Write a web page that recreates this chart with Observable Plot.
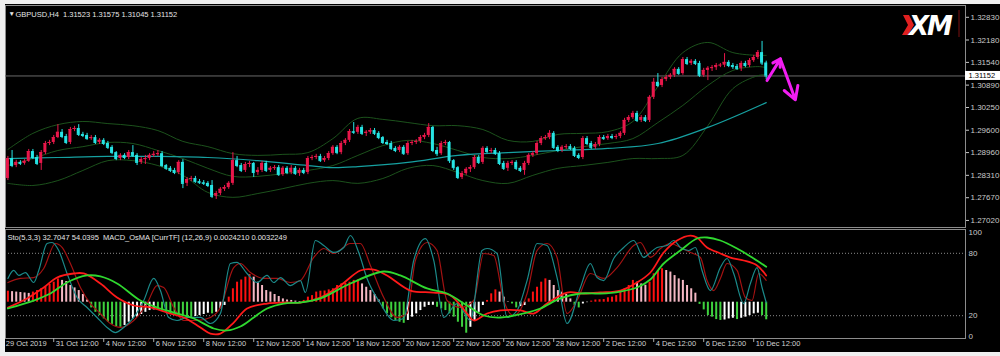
<!DOCTYPE html>
<html><head><meta charset="utf-8">
<script src="https://cdn.jsdelivr.net/npm/d3@7"></script>
<script src="https://cdn.jsdelivr.net/npm/@observablehq/plot@0.6"></script>
<style>
body{margin:0;background:#fff;}
#root{position:relative;width:1000px;height:356px;overflow:hidden;background:#efefef;}
#root > svg{position:absolute;}
</style></head><body><div id="root"></div>
<script>
// ---------- DATA ----------
const symbol = "GBPUSD,H4";
const firstOpen = 1.2822;
const close = [1.2879,1.2859,1.2868,1.2865,1.2871,1.2899,1.2882,1.2865,1.2896,1.2922,
1.2925,1.2939,1.2954,1.2942,1.2925,1.2962,1.2965,1.2948,1.2945,1.2936,
1.2939,1.2925,1.2931,1.2922,1.2911,1.2896,1.2879,1.2888,1.2882,1.2896,
1.2888,1.2868,1.2876,1.2879,1.2888,1.2891,1.2893,1.2859,1.2851,1.2845,
1.2839,1.2868,1.2808,1.2819,1.2822,1.2813,1.2810,1.2808,1.2802,1.2771,
1.2779,1.2791,1.2796,1.2808,1.2873,1.2859,1.2845,1.2862,1.2865,1.2839,
1.2845,1.2865,1.2845,1.2851,1.2853,1.2833,1.2851,1.2839,1.2851,1.2836,
1.2845,1.2839,1.2879,1.2882,1.2885,1.2873,1.2879,1.2893,1.2911,1.2896,
1.2922,1.2931,1.2956,1.2954,1.2968,1.2951,1.2954,1.2959,1.2951,1.2939,
1.2925,1.2922,1.2908,1.2902,1.2911,1.2893,1.2922,1.2925,1.2928,1.2939,
1.2945,1.2968,1.2902,1.2893,1.2922,1.2925,1.2873,1.2853,1.2825,1.2836,
1.2848,1.2853,1.2882,1.2868,1.2908,1.2899,1.2902,1.2893,1.2865,1.2851,
1.2865,1.2868,1.2851,1.2845,1.2865,1.2888,1.2893,1.2922,1.2936,1.2939,
1.2951,1.2911,1.2902,1.2911,1.2913,1.2908,1.2888,1.2882,1.2936,1.2922,
1.2911,1.2919,1.2939,1.2936,1.2942,1.2939,1.2942,1.2951,1.2988,1.2996,
1.3008,1.2988,1.2996,1.2988,1.3054,1.3097,1.3088,1.3105,1.3111,1.3117,
1.3134,1.3122,1.3162,1.3151,1.3157,1.3151,1.3117,1.3131,1.3137,1.3139,
1.3145,1.3146,1.3154,1.3145,1.3142,1.3137,1.3151,1.3145,1.3159,1.3168,
1.3182,1.31523,1.31152];
const high = [1.2885,1.2902,1.2874,1.2873,1.2876,1.2905,1.2905,1.2888,1.2902,1.2928,
1.2931,1.2945,1.2976,1.2962,1.2948,1.2968,1.2971,1.2976,1.2954,1.2951,
1.2945,1.2945,1.2936,1.2936,1.2928,1.2916,1.2899,1.2893,1.2893,1.2902,
1.2916,1.2893,1.2882,1.2888,1.2893,1.2899,1.2902,1.2899,1.2862,1.2856,
1.2851,1.2873,1.2876,1.2825,1.2828,1.2828,1.2819,1.2816,1.2813,1.2816,
1.2785,1.2796,1.2802,1.2813,1.2896,1.2885,1.2865,1.2868,1.2871,1.2868,
1.2853,1.2871,1.2871,1.2856,1.2859,1.2859,1.2856,1.2856,1.2859,1.2856,
1.2851,1.2851,1.2885,1.2888,1.2891,1.2891,1.2885,1.2899,1.2916,1.2916,
1.2928,1.2936,1.2962,1.2982,1.2974,1.2974,1.2959,1.2965,1.2965,1.2956,
1.2942,1.2931,1.2928,1.2913,1.2916,1.2916,1.2928,1.2931,1.2933,1.2945,
1.2951,1.2979,1.2971,1.2911,1.2928,1.2931,1.2928,1.2876,1.2856,1.2842,
1.2853,1.2859,1.2888,1.2888,1.2913,1.2913,1.2908,1.2908,1.2899,1.2871,
1.2871,1.2873,1.2873,1.2856,1.2871,1.2893,1.2899,1.2928,1.2942,1.2945,
1.2959,1.2956,1.2916,1.2916,1.2919,1.2919,1.2913,1.2893,1.2942,1.2942,
1.2928,1.2925,1.2945,1.2945,1.2948,1.2948,1.2948,1.2956,1.2994,1.3002,
1.3014,1.3014,1.3002,1.3002,1.3059,1.3108,1.3122,1.3111,1.3117,1.3122,
1.3139,1.3139,1.3168,1.3168,1.3162,1.3162,1.3157,1.3137,1.3142,1.3145,
1.3151,1.3151,1.3179,1.3159,1.3151,1.3148,1.3157,1.3157,1.3165,1.3174,
1.3188,1.3214,1.31575];
const low = [1.2816,1.2853,1.2853,1.2859,1.2860,1.2868,1.2876,1.2859,1.2845,1.2890,
1.2916,1.2919,1.2936,1.2936,1.2919,1.2919,1.2956,1.2942,1.2939,1.2931,
1.2931,1.2919,1.2919,1.2916,1.2905,1.2890,1.2873,1.2873,1.2876,1.2876,
1.2882,1.2859,1.2862,1.2862,1.2873,1.2882,1.2885,1.2853,1.2845,1.2839,
1.2833,1.2833,1.2793,1.2799,1.2813,1.2808,1.2805,1.2802,1.2796,1.2765,
1.2762,1.2773,1.2785,1.2791,1.2802,1.2853,1.2839,1.2839,1.2853,1.2825,
1.2831,1.2839,1.2839,1.2839,1.2845,1.2828,1.2828,1.2833,1.2833,1.2831,
1.2828,1.2833,1.2833,1.2873,1.2876,1.2868,1.2868,1.2873,1.2888,1.2890,
1.2890,1.2916,1.2925,1.2948,1.2948,1.2945,1.2942,1.2948,1.2945,1.2933,
1.2919,1.2916,1.2902,1.2896,1.2896,1.2888,1.2888,1.2916,1.2919,1.2922,
1.2933,1.2939,1.2896,1.2885,1.2888,1.2916,1.2865,1.2845,1.2819,1.2819,
1.2831,1.2839,1.2848,1.2862,1.2862,1.2893,1.2893,1.2888,1.2859,1.2845,
1.2842,1.2859,1.2845,1.2839,1.2831,1.2859,1.2882,1.2888,1.2916,1.2931,
1.2933,1.2905,1.2896,1.2896,1.2905,1.2902,1.2882,1.2876,1.2876,1.2916,
1.2905,1.2905,1.2913,1.2931,1.2931,1.2933,1.2933,1.2936,1.2945,1.2982,
1.2991,1.2982,1.2982,1.2982,1.2982,1.3048,1.3082,1.3082,1.3099,1.3105,
1.3111,1.3117,1.3117,1.3145,1.3145,1.3145,1.3111,1.3111,1.3102,1.3128,
1.3131,1.3139,1.3139,1.3139,1.3134,1.3131,1.3128,1.3139,1.3139,1.3154,
1.3162,1.3145,1.31045];

// Bollinger bands (20,2) and moving average, sampled at bar indices
const bandBar = [0,6,12,18,24,30,36,42,48,54,60,66,72,78,84,90,96,102,108,114,120,126,132,138,144,150,156,162,168,174,180,182];
const bandUpper = [1.2905,1.2951,1.2976,1.2985,1.2979,1.2973,1.2959,1.2928,1.2913,1.2893,1.2888,1.2891,1.2896,1.2936,1.2994,1.2991,1.2982,1.2973,1.2973,1.2962,1.2931,1.2928,1.2948,1.2951,1.2956,1.2985,1.3085,1.3182,1.3211,1.3182,1.3174,1.3174];
const bandMid = [1.2859,1.2879,1.2902,1.2913,1.2925,1.2922,1.2902,1.2879,1.2851,1.2828,1.2828,1.2836,1.2845,1.2859,1.2888,1.2916,1.2931,1.2922,1.2902,1.2882,1.2879,1.2888,1.2902,1.2913,1.2922,1.2936,1.2982,1.3031,1.3088,1.3131,1.3142,1.3139];
const bandLower = [1.2808,1.2802,1.2816,1.2845,1.2873,1.2873,1.2859,1.2831,1.2782,1.2768,1.2779,1.2793,1.2808,1.2816,1.2808,1.2822,1.2851,1.2859,1.2839,1.2816,1.2808,1.2831,1.2851,1.2859,1.2868,1.2879,1.2879,1.2888,1.2973,1.3079,1.3116,1.3119];
const maBar = [0,12,24,36,48,60,72,78,84,96,108,120,132,144,156,168,182];
const maValue = [1.2879,1.2882,1.2885,1.2885,1.2882,1.2873,1.2859,1.2853,1.2856,1.2868,1.2888,1.2896,1.2902,1.2908,1.2922,1.2968,1.3039];

// price axis ticks
const priceTicks = [1.32830,1.32180,1.31540,1.30890,1.30250,1.29600,1.28960,1.28310,1.27670,1.27020];

// forecast arrow (bar index, price)
const arrowBar = [182.2, 185.4, 189.0];
const arrowPrice = [1.3102, 1.3164, 1.3047];

// time axis
const timeTickBar = [-1,11,23,35,47,59,71,83,95,107,119,131,143,155,167,179];
const timeTickLabel = ["29 Oct 2019","31 Oct 12:00","4 Nov 12:00","6 Nov 12:00","8 Nov 12:00","12 Nov 12:00","14 Nov 12:00","18 Nov 12:00","20 Nov 12:00","22 Nov 12:00","26 Nov 12:00","28 Nov 12:00","2 Dec 12:00","4 Dec 12:00","6 Dec 12:00","10 Dec 12:00"];

// Stochastic (5,3,3)
const stochKBar = [0,1.4,2.6,4.2,6.2,7.4,9.4,10.6,12.2,14.2,16.6,19,21.4,23.8,25.8,27.8,30.2,32.6,35,36.6,38.6,40.6,43,46.2,48.6,51,53.4,55,57.4,59.8,62.2,63.8,65.4,67.8,70.2,71.4,73.8,75.8,78.2,80.6,82.2,84.2,86.2,89.4,92.6,95,97.4,100.2,102.2,104.6,107.8,111,113.8,115,117.4,119.8,122.2,124.6,127,129.4,131.8,134.2,137.4,139.8,141.4,143,145.4,147.8,150.2,152.6,154.2,155.8,158.2,159.8,161.4,163.4,165,166.6,168.6,171,172.6,174.2,176.6,178.2,179.8,181,182];
const stochK = [55.8,63.5,58.7,61.5,51.9,63.5,89.4,90.4,82.7,60.6,37.5,27.9,18.3,8.7,3.8,8.7,18.3,34.6,55.8,44.2,18.3,15.4,18.3,18.3,12.5,22.1,70.2,71.2,60.6,51.9,58.7,51.9,56.7,49,53.8,42.3,92.3,87.5,80.8,85.6,97.1,80.8,55.8,31.7,15.4,17.3,73.1,94.2,73.1,18.3,31.7,15.4,82.7,84.6,79.8,18.3,25,53.8,89.4,87.5,56.7,12.5,47.1,70.2,56.7,53.8,75,85.6,92.3,76,80.8,85.6,87.5,92.3,85.6,82.7,85.6,63.5,44.2,66.3,75,60.6,31.7,51,66.3,47.1,32.7047];
const stochDBar = [0,3,6.2,8.6,11.4,13,15,17.4,19.8,22.2,24.6,27,30.2,33.4,35.8,37.4,39.8,42.2,45.4,48.6,51,54.2,55.8,58.2,61.4,64.6,67.8,70.2,73.4,75.8,78.2,82.2,84.6,87,90.2,93.4,95.8,97.8,100.6,103,105.4,108.6,111.8,114.2,116.6,119,121.4,124.6,127,129.4,131.8,134.2,136.6,139.8,143,146.2,150.2,151.8,154.2,156.6,159,161.4,163.8,166.2,167.8,169.4,171,172.6,175,177,178.6,180.2,182];
const stochD = [51.9,55.8,56.7,65.4,89.4,85.6,70.2,47.1,31.7,22.1,12.5,8.7,15.4,31.7,49,47.1,27.9,15.4,15.4,18.3,27.9,66.3,70.2,61.5,55.8,55.8,51.9,53.8,76,84.6,79.8,89.4,89.4,68.3,37.5,18.3,22.1,73.1,90.4,82.7,34.6,27.9,34.6,79.8,77.9,34.6,20.2,41.3,82.7,89.4,76,22.1,34.6,60.6,55.8,66.3,87.5,90.4,76,84.6,89.4,85.6,80.8,76,53.8,44.2,55.8,70.2,63.5,37.5,34.6,60.6,54.0395];

// MACD (12,26,9): main line and signal line
const macdBar = [0,4.6,8.6,11.8,15.8,18.2,22.2,26.2,30.2,34.2,38.2,42.2,46.2,48.6,51,54.2,57.4,62.2,66.2,70.2,75,79.8,84.6,87.8,91,96.6,102.2,106.2,110.2,111.8,115,118.2,123,126.2,129.4,134.2,138.2,142.2,147,151,154.2,157.4,160.6,163.8,165.4,167.8,171,173.4,176.6,179.8,182];
const macdMain = [-0.00048,0.00034,0.00134,0.00225,0.00261,0.00261,0.0017,0.00043,-0.0003,-0.00048,-0.00094,-0.00139,-0.0023,-0.00285,-0.00285,-0.00185,-0.00057,-0.00012,-0.00003,-0.00003,0.00043,0.00152,0.00288,0.00297,0.00243,0.00106,0.00088,0.00061,-0.00103,-0.00166,-0.00103,-0.00075,-0.00075,-0.00103,-0.00012,0.00088,0.00079,0.00088,0.00106,0.00179,0.0027,0.00452,0.00561,0.00606,0.00588,0.00497,0.00443,0.00406,0.00379,0.00334,0.0024210];
const signalBar = [0,6.2,10.2,14.2,19,22.2,26.2,31.8,35.8,39.8,44.6,49.4,52.6,55.8,59,62.2,66.2,70.2,75,82.2,90.2,94.2,100.6,105.4,110.2,114.2,118.2,124.6,127.8,132.6,137.4,142.2,147,151,154.2,157.4,161.4,165.4,167.8,171,175,179,182];
const macdSignal = [-0.00057,0.00015,0.00079,0.00179,0.00243,0.00234,0.0017,0.00015,-0.00048,-0.00094,-0.00148,-0.00239,-0.00257,-0.00221,-0.00139,-0.00057,-0.00012,-0.00003,0.00034,0.0017,0.00279,0.00243,0.00125,0.00079,-0.0003,-0.00121,-0.00139,-0.00094,-0.00057,0.00034,0.00079,0.00079,0.00097,0.00134,0.00206,0.00352,0.0047,0.00579,0.00588,0.00561,0.00488,0.00397,0.0032249];
// OsMA histogram, one value per bar
const osma = [0.0005,0.00048,0.00046,0.00044,0.00042,0.0004,0.00046,0.00053,0.00061,0.00071,0.00081,0.00091,0.00106,0.00099,0.00094,0.00076,0.00065,0.00053,0.00035,0.0001,
-0.00026,-0.00046,-0.00061,-0.00076,-0.00091,-0.00101,-0.00111,-0.00114,-0.00106,-0.00091,-0.00076,-0.00068,-0.00056,-0.00046,-0.00038,-0.00035,-0.00036,-0.00041,-0.00046,-0.00053,-0.00054,-0.00061,-0.00062,-0.00068,-0.00069,-0.00065,-0.00061,-0.00056,-0.0005,-0.00053,-0.00046,-0.0003,-0.00015,
0.00023,0.00061,0.00091,0.00101,0.00114,0.00126,0.00114,0.00091,0.00076,0.00053,0.00046,0.00035,0.00026,0.00015,0.0001,0.00008,0.00005,0.00003,0.00008,
0.00023,0.0003,0.00046,0.0005,0.00051,0.00056,0.00061,0.00076,0.00083,0.00086,0.00091,0.00099,0.00101,0.00083,0.00068,0.00053,0.00035,0.0001,
-0.0003,-0.00053,-0.00071,-0.00083,-0.00091,-0.00096,-0.00083,-0.00068,-0.00053,-0.00038,-0.00023,-0.00015,-0.00014,-0.00023,-0.0003,-0.00038,-0.00053,-0.00068,-0.00091,-0.00114,-0.00141,-0.00114,-0.00083,-0.00046,-0.00015,
0.00008,0.00038,0.00056,0.00046,0.00023,0.00002,-0.00008,-0.00026,-0.0002,-0.00015,
0.00015,0.00046,0.00068,0.00091,0.00106,0.00099,0.00076,0.00053,0.00046,0.00035,0.00015,-0.00015,-0.00026,-0.00008,-0.00002,
0.00005,0.0001,0.00011,0.00012,0.0002,0.00023,0.0003,0.00046,0.00061,0.00076,0.00099,0.00091,0.00083,0.00077,0.00091,0.00129,0.00144,0.00152,0.00144,0.00137,0.00121,0.00106,0.00099,0.00076,0.00061,0.00041,
-0.0001,-0.00035,-0.00061,-0.00068,-0.00079,-0.00083,-0.00081,-0.00076,-0.00073,-0.00079,-0.00073,-0.00068,-0.00061,-0.00053,-0.0005,-0.00061,-0.0008];

// ---------- DRAWING ----------
const FONT = "'Liberation Sans', Arial, sans-serif";
const root = document.getElementById("root");
const xDomain = [-0.576, 229.83];
const priceDomain = [1.26818, 1.33167];
const W = 995;

const bars = close.map((c, i) => ({i, o: i ? close[i - 1] : firstOpen, c, h: high[i], l: low[i]}));
const last = bars[bars.length - 1];
const candleColor = d => d.c > d.o ? "#e8174a" : d.c < d.o ? "#27e4e4" : "#2ad02a";

const fmt5 = d3.format(".5f");
const pxPerBar = (W - 35) / (xDomain[1] - xDomain[0]);
const pxPerPrice = 222 / (priceDomain[1] - priceDomain[0]);

const arrowSegs = [0, 1].map(k => ({x1: arrowBar[k], y1: arrowPrice[k], x2: arrowBar[k + 1], y2: arrowPrice[k + 1]}));

const main = Plot.plot({
  width: W, height: 224,
  marginLeft: 0, marginRight: 35, marginTop: 1, marginBottom: 1,
  style: {background: "#000", color: "#c9c9c9", fontFamily: FONT, fontSize: "8px"},
  x: {domain: xDomain, axis: null, label: null},
  y: {domain: priceDomain, axis: "right", ticks: priceTicks, tickFormat: fmt5, tickSize: 3, tickPadding: 2, label: null},
  marks: [
    Plot.frame({stroke: "#8c8c8c"}),
    Plot.ruleY([last.c], {stroke: "#6a6a6a"}),
    Plot.line(bandBar, {x: d => d, y: (d, i) => bandUpper[i], stroke: "#1c521c", strokeWidth: 1, curve: "catmull-rom"}),
    Plot.line(bandBar, {x: d => d, y: (d, i) => bandMid[i], stroke: "#1c521c", strokeWidth: 1, curve: "catmull-rom"}),
    Plot.line(bandBar, {x: d => d, y: (d, i) => bandLower[i], stroke: "#1c521c", strokeWidth: 1, curve: "catmull-rom"}),
    Plot.line(maBar, {x: d => d, y: (d, i) => maValue[i], stroke: "#16a0a0", strokeWidth: 1.2, curve: "catmull-rom"}),
    Plot.ruleX(bars, {x: "i", y1: "l", y2: "h", stroke: candleColor, strokeWidth: 1}),
    Plot.rect(bars, {x1: d => d.i - 0.36, x2: d => d.i + 0.36, y1: d => Math.min(d.o, d.c), y2: d => Math.max(d.o, d.c), fill: candleColor}),
    Plot.ruleY(bars, {x1: d => d.i - 0.36, x2: d => d.i + 0.36, y: "c", stroke: candleColor}),
    Plot.arrow([arrowSegs[0]], {x1: "x1", y1: "y1", x2: "x2", y2: "y2", stroke: "#f21df2", strokeWidth: 3, headLength: 8}),
    Plot.arrow([arrowSegs[1]], {x1: "x1", y1: "y1", x2: "x2", y2: "y2", stroke: "#f21df2", strokeWidth: 3, headLength: 12}),
    Plot.rect([last.c], {x1: xDomain[1], x2: xDomain[1] + 35 / pxPerBar, y1: d => d - 4.5 / pxPerPrice, y2: d => d + 4.5 / pxPerPrice, fill: "#ffffff"}),
    Plot.text([last.c], {x: xDomain[1], y: d => d, text: d => fmt5(d), dx: 3, textAnchor: "start", fill: "#000", fontSize: 7.5}),
    Plot.text(["\u25BC"], {frameAnchor: "top-left", dx: 3, dy: 6, text: d => d, fill: "#e8e8e8", fontSize: 6.5}),
    Plot.text([`${symbol}  ${fmt5(last.o)} ${fmt5(last.h)} ${fmt5(last.l)} ${fmt5(last.c)}`], {frameAnchor: "top-left", dx: 10, dy: 6, text: d => d, textAnchor: "start", fill: "#e4e4e4", fontSize: 7.5})
  ]
});
main.style.left = "5px"; main.style.top = "4px";
root.appendChild(main);

// ----- lower panel -----
const stochDomain = [-1.923, 102.885];
const macdDomain = [-0.0033, 0.006609];
const histDomain = [macdDomain[0] / 2, macdDomain[1] / 2];
const lowerGeom = {width: W, height: 124, marginLeft: 0, marginRight: 35, marginTop: 1, marginBottom: 14};
const place = (svg) => { svg.style.left = "5px"; svg.style.top = "228px"; root.appendChild(svg); };

const stochLast = stochK[stochK.length - 1], stochDLast = stochD[stochD.length - 1];
const macdLast = macdMain[macdMain.length - 1], signalLast = macdSignal[macdSignal.length - 1];
const lowerTitle = `Sto(5,3,3) ${stochLast.toFixed(4)} ${stochDLast.toFixed(4)}  MACD_OsMA [CurrTF] (12,26,9) ${macdLast.toFixed(7)} ${signalLast.toFixed(7)}`;

place(Plot.plot({
  ...lowerGeom,
  style: {background: "#000", color: "#c9c9c9", fontFamily: FONT, fontSize: "8px"},
  x: {domain: xDomain, axis: null, label: null},
  y: {domain: stochDomain, axis: "right", ticks: [0, 20, 80, 100], tickSize: 0, tickPadding: 3, label: null},
  marks: [
    Plot.ruleY([20, 80], {stroke: "#8a8a8a", strokeDasharray: "1,2"}),
    Plot.frame({stroke: "#8c8c8c"}),
    Plot.ruleX(timeTickBar, {x: d => d, y1: stochDomain[0], y2: stochDomain[0] - 4 / 1.04, stroke: "#aaaaaa"}),
    Plot.text(timeTickBar, {x: d => d, frameAnchor: "bottom", dy: 7, dx: 2, textAnchor: "start", text: (d, i) => timeTickLabel[i], fill: "#d2d2d2", fontSize: 7.5}),
    Plot.text([lowerTitle], {frameAnchor: "top-left", dx: 2, dy: 5.5, text: d => d, textAnchor: "start", fill: "#e4e4e4", fontSize: 7.5})
  ]
}));

const histData = osma.map((v, i) => ({i, v, p: i ? osma[i - 1] : v}));
const histColor = d => d.v >= 0 ? (d.v >= d.p ? "#ff1010" : "#f5b8c4") : (d.v <= d.p ? "#3ed23e" : "#ffffff");
place(Plot.plot({
  ...lowerGeom,
  style: {background: "transparent"},
  x: {domain: xDomain, axis: null, label: null},
  y: {domain: histDomain, axis: null, label: null},
  marks: [Plot.ruleX(histData, {x: "i", y1: 0, y2: "v", stroke: histColor, strokeWidth: 2})]
}));

place(Plot.plot({
  ...lowerGeom,
  style: {background: "transparent"},
  x: {domain: xDomain, axis: null, label: null},
  y: {domain: stochDomain, axis: null, label: null},
  marks: [
    Plot.line(stochDBar, {x: d => d, y: (d, i) => stochD[i], stroke: "#a31212", strokeWidth: 1.2, curve: "monotone-x"}),
    Plot.line(stochKBar, {x: d => d, y: (d, i) => stochK[i], stroke: "#1b8a8a", strokeWidth: 1.2, curve: "monotone-x"})
  ]
}));

place(Plot.plot({
  ...lowerGeom,
  style: {background: "transparent"},
  x: {domain: xDomain, axis: null, label: null},
  y: {domain: macdDomain, axis: null, label: null},
  marks: [
    Plot.line(macdBar, {x: d => d, y: (d, i) => macdMain[i], stroke: "#ff1a1a", strokeWidth: 1.8, curve: "catmull-rom"}),
    Plot.line(signalBar, {x: d => d, y: (d, i) => macdSignal[i], stroke: "#2fd82f", strokeWidth: 1.8, curve: "catmull-rom"})
  ]
}));

// ----- XM logo (decoration) -----
const ns = "http://www.w3.org/2000/svg";
const logo = document.createElementNS(ns, "svg");
logo.setAttribute("width", "70"); logo.setAttribute("height", "34");
logo.style.left = "898px"; logo.style.top = "8px";
logo.innerHTML = `<polygon points="5,7 11,7 16,17 10,27 4,27 10,17" fill="#e02020"/>
<text x="11" y="27" fill="#ffffff" font-family="DejaVu Sans, sans-serif" font-weight="bold" font-style="italic" font-size="26" letter-spacing="-2">XM</text>
<line x1="61" y1="2" x2="61" y2="29" stroke="#7a1010" stroke-width="1"/>`;
root.appendChild(logo);
</script>
</body></html>
